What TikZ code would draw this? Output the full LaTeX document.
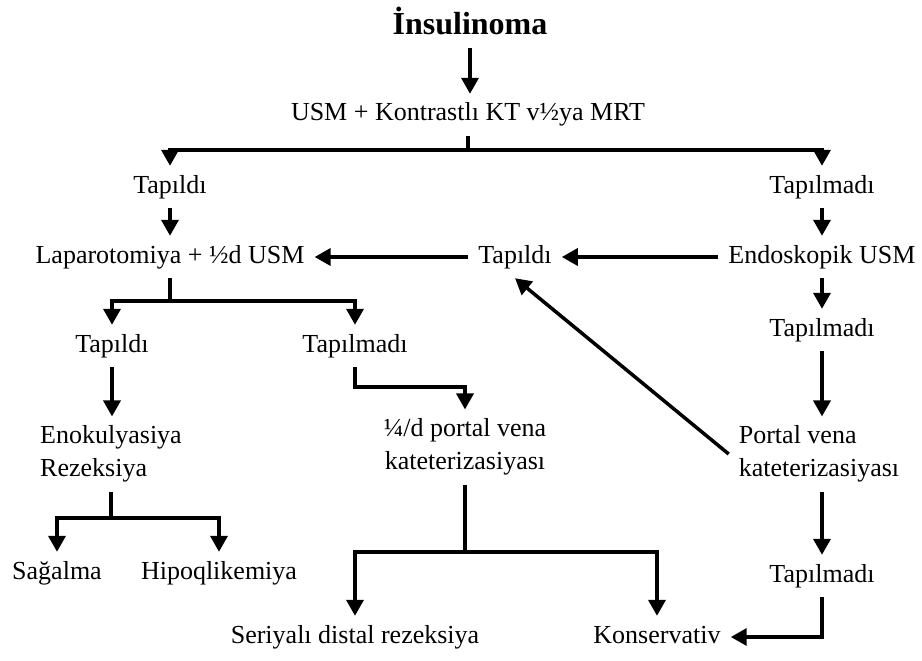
\documentclass[tikz,border=0pt]{standalone}
\usepackage{fontspec}
\setmainfont{Liberation Serif}
\usetikzlibrary{arrows.meta,calc}
\begin{document}
\begin{tikzpicture}[x=1pt,y=-1pt,
  txt/.style={font=\fontsize{26}{33}\selectfont, inner xsep=10pt, inner ysep=9pt, text height=18pt, text depth=6pt},
  blk/.style={font=\fontsize{26}{33}\selectfont, inner xsep=10pt, inner ysep=9pt},
  ln/.style={line width=3.5pt},
  arr/.style={line width=3.5pt, -{Triangle[length=16pt,width=17pt]}}]
\useasboundingbox[fill=white] (0,0) rectangle (922,661);

% nodes
\node[font=\fontsize{32}{36}\selectfont\bfseries, inner sep=0pt, inner ysep=12pt, anchor=base] (ins) at (470,35) {İnsulinoma};
\node[txt] (usm) at (468,115) {USM + Kontrastlı KT v½ya MRT};
\node[txt] (tap1) at (170,187) {Tapıldı};
\node[txt] (tapm1) at (822,187) {Tapılmadı};
\node[txt] (lap) at (170,257) {Laparotomiya + ½d USM};
\node[txt] (tapc) at (515,257) {Tapıldı};
\node[txt] (endo) at (822,257) {Endoskopik USM};
\node[txt] (tapm2) at (822,330) {Tapılmadı};
\node[blk, align=left] (pv) at (819,454) {Portal vena\\kateterizasiyası};
\node[txt] (tapm3) at (822,576) {Tapılmadı};
\node[txt] (kons) at (657,637) {Konservativ};
\node[txt] (ser) at (355,637) {Seriyalı distal rezeksiya};
\node[txt] (tap2) at (112,346) {Tapıldı};
\node[txt] (tapm2l) at (355,346) {Tapılmadı};
\node[blk, align=left] (eno) at (111,454) {Enokulyasiya\\Rezeksiya};
\node[blk, align=center] (pv2) at (465,447) {¼/d portal vena\\kateterizasiyası};
\node[txt] (sag) at (57,573) {Sağalma};
\node[txt] (hipo) at (219,573) {Hipoqlikemiya};

% junctions
\coordinate (j1) at (usm.south |- 0,150);
\coordinate (j2) at (lap.south |- 0,301);
\coordinate (j3) at (eno.south |- 0,518);
\coordinate (j4) at (tapm2l.south |- 0,387);
\coordinate (j5) at (pv2.south |- 0,552);

% connectors
\draw[arr] (ins.south) -- (ins.south |- usm.north);
\draw[ln] (usm.south) -- (j1);
\draw[arr] (j1) -| (tap1.north);
\draw[arr] (j1) -| (tapm1.north);
\draw[arr] (tap1.south) -- (lap.north);
\draw[arr] (tapc.west) -- (lap.east);
\draw[arr] (endo.west) -- (tapc.east);
\draw[arr] (tapm1.south) -- (endo.north);
\draw[arr] (endo.south) -- (tapm2.north);
\draw[arr] (tapm2.south) -- (tapm2.south |- pv.north);
\draw[arr] (tapm3.north |- pv.south) -- (tapm3.north);
\draw[arr] (tapm3.south) |- (kons.east);
\draw[arr] (pv.west) -- (tapc.south);
\draw[ln] (lap.south) -- (j2);
\draw[arr] (j2) -| (tap2.north);
\draw[arr] (j2) -| (tapm2l.north);
\draw[arr] (tap2.south) -- (tap2.south |- eno.north);
\draw[ln] (eno.south) -- (j3);
\draw[arr] (j3) -| (sag.north);
\draw[arr] (j3) -| (hipo.north);
\draw[arr] (tapm2l.south) -- (j4) -| (pv2.north);
\draw[ln] (pv2.south) -- (j5);
\draw[arr] (j5) -| (ser.north);
\draw[arr] (j5) -| (kons.north);
\end{tikzpicture}
\end{document}
